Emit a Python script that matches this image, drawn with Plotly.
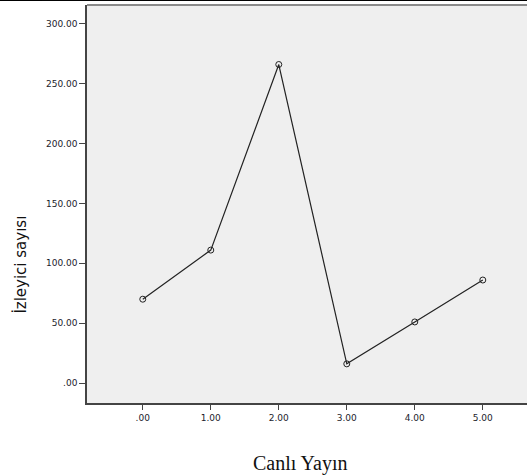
import plotly.graph_objects as go

# data
canli_yayin = [0, 1, 2, 3, 4, 5]
izleyici = [70, 111, 266, 16, 51, 86]

x_ticks = [0, 1, 2, 3, 4, 5]
x_labels = [".00", "1.00", "2.00", "3.00", "4.00", "5.00"]
y_ticks = [0, 50, 100, 150, 200, 250, 300]
y_labels = [".00", "50.00", "100.00", "150.00", "200.00", "250.00", "300.00"]

PLOT_BG = "#EFEFEF"
INK = "#222222"

fig = go.Figure()
fig.add_trace(go.Scatter(
    x=canli_yayin, y=izleyici,
    mode="lines+markers",
    line=dict(color=INK, width=1.2),
    marker=dict(symbol="circle-open", size=6, color=INK, line=dict(width=1)),
    showlegend=False,
))

fig.update_layout(
    width=527, height=475,
    margin=dict(l=87, r=0, t=5, b=72),
    paper_bgcolor="white",
    plot_bgcolor=PLOT_BG,
    font=dict(family="DejaVu Sans, sans-serif", size=9, color="#1c1c2c"),
)

fig.update_xaxes(
    range=[-0.82, 5.65],
    tickvals=x_ticks, ticktext=x_labels,
    ticks="outside", ticklen=5, tickcolor="#444",
    showgrid=False, zeroline=False,
    showline=True, linecolor="#444", linewidth=1.5,
)
fig.update_yaxes(
    range=[-16.7, 315.7],
    tickvals=y_ticks, ticktext=y_labels,
    ticks="outside", ticklen=6, tickcolor="#444",
    showgrid=False, zeroline=False,
    showline=True, linecolor="#444", linewidth=1.5,
)

# gray top border of plot area and black strip at the top of the page
fig.add_shape(type="line", xref="paper", yref="paper", x0=0, x1=1, y0=1, y1=1,
              line=dict(color="#8A8A8A", width=2))
fig.add_shape(type="line", xref="paper", yref="paper",
              x0=-87 / 440, x1=(42 - 87) / 440, y0=(403 - 0.5) / 397, y1=(403 - 0.5) / 397,
              line=dict(color="black", width=3))
fig.add_shape(type="line", xref="paper", yref="paper",
              x0=(42 - 87) / 440, x1=1, y0=(403 - 1.5) / 397, y1=(403 - 1.5) / 397,
              line=dict(color="black", width=1))

fig.add_annotation(text="İzleyici sayısı", textangle=-90,
                   xref="paper", yref="paper", x=-0.152, y=0.348,
                   xanchor="center", yanchor="middle",
                   showarrow=False, font=dict(family="DejaVu Sans, sans-serif", size=15, color="#111"))
fig.add_annotation(text="Canlı Yayın",
                   xref="paper", yref="paper", x=0.484, y=-0.151,
                   xanchor="center", yanchor="middle",
                   showarrow=False, font=dict(family="Liberation Serif, serif", size=20, color="#111"))

# drop the default page margin so the figure sits at the window corner
fig.write_html("out.html", config={"displayModeBar": False},
               post_script="document.body.style.margin='0';")
